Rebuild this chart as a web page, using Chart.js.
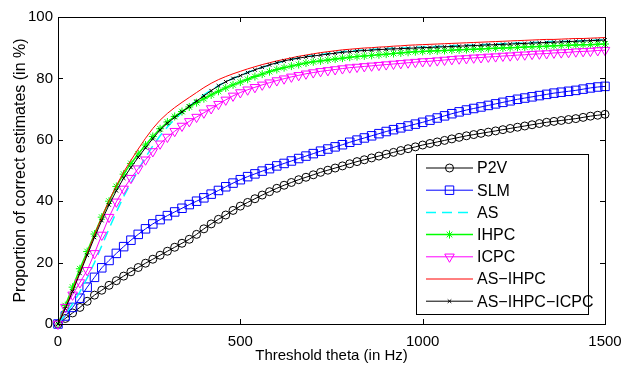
<!DOCTYPE html>
<html>
<head>
<meta charset="utf-8">
<script src="https://cdn.jsdelivr.net/npm/chart.js@4.4.1/dist/chart.umd.min.js"></script>
<style>
  html, body { margin: 0; padding: 0; background: #fff; }
  #wrap { width: 632px; height: 365px; position: relative; }
</style>
</head>
<body>
<div id="wrap"><canvas id="accChart"></canvas></div>
<script>
// threshold theta (Hz), one sample every 20 Hz
const theta = [];
for (let t = 0; t <= 1500; t += 20) theta.push(t);

const xTicks = [0, 500, 1000, 1500];
const yTicks = [0, 20, 40, 60, 80, 100];

// proportion of correct estimates (%)
const p2v = [0, 1.8, 3.6, 5.4, 7.4, 9.4, 11.0, 12.6, 14.1, 15.6,
  17.0, 18.4, 19.8, 21.1, 22.4, 23.7, 25.0, 26.3, 27.6, 29.2,
  31.0, 32.6, 34.1, 35.5, 37.0, 38.4, 39.6, 40.8, 42.0, 43.1,
  44.2, 45.2, 46.1, 47.0, 47.8, 48.6, 49.4, 50.1, 50.8, 51.5,
  52.2, 52.9, 53.5, 54.1, 54.7, 55.3, 55.9, 56.5, 57.1, 57.7,
  58.3, 58.8, 59.3, 59.8, 60.3, 60.8, 61.3, 61.7, 62.1, 62.5,
  62.9, 63.3, 63.7, 64.1, 64.5, 64.9, 65.3, 65.7, 66.0, 66.3,
  66.6, 66.9, 67.3, 67.7, 68.0, 68.3];

const slm = [0, 2.6, 5.4, 8.4, 12.0, 15.2, 18.3, 20.7, 23.0, 25.2,
  27.3, 29.2, 31.0, 32.6, 34.0, 35.3, 36.5, 37.7, 38.9, 40.0,
  41.1, 42.3, 43.5, 44.7, 45.9, 47.0, 48.0, 48.9, 49.8, 50.6,
  51.5, 52.3, 53.1, 53.9, 54.7, 55.5, 56.3, 57.0, 57.7, 58.4,
  59.2, 59.9, 60.6, 61.3, 62.0, 62.7, 63.3, 63.9, 64.5, 65.1,
  65.7, 66.4, 67.1, 67.8, 68.5, 69.1, 69.7, 70.2, 70.7, 71.2,
  71.7, 72.2, 72.7, 73.2, 73.6, 74.0, 74.4, 74.8, 75.2, 75.5,
  75.8, 76.1, 76.5, 76.9, 77.2, 77.4];

const as = [0, 3.0, 6.5, 10.5, 15.0, 20.0, 25.5, 31.0, 36.5, 41.5,
  46.0, 50.3, 54.3, 58.0, 61.3, 64.2, 66.7, 68.9, 70.9, 72.8,
  74.6, 76.2, 77.6, 78.9, 80.0, 81.0, 81.9, 82.8, 83.6, 84.3,
  85.0, 85.6, 86.2, 86.7, 87.1, 87.5, 87.8, 88.1, 88.4, 88.7,
  88.9, 89.1, 89.3, 89.4, 89.6, 89.7, 89.8, 89.9, 90.0, 90.1,
  90.2, 90.3, 90.4, 90.5, 90.6, 90.7, 90.8, 90.9, 91.0, 91.1,
  91.2, 91.3, 91.4, 91.5, 91.6, 91.7, 91.8, 91.9, 92.0, 92.0,
  92.1, 92.2, 92.3, 92.4, 92.5, 92.6];

const ihpc = [0, 6.0, 12.0, 18.0, 23.6, 29.3, 34.8, 40.0, 44.8, 48.8,
  52.3, 55.4, 58.3, 61.1, 63.6, 65.8, 67.6, 69.2, 70.7, 72.1,
  73.4, 74.6, 75.8, 76.9, 77.9, 78.8, 79.7, 80.6, 81.4, 82.2,
  82.9, 83.5, 84.0, 84.5, 85.0, 85.4, 85.7, 86.0, 86.3, 86.6,
  86.9, 87.1, 87.3, 87.5, 87.7, 87.9, 88.1, 88.3, 88.5, 88.7,
  88.8, 88.9, 89.0, 89.1, 89.2, 89.3, 89.4, 89.5, 89.6, 89.7,
  89.8, 89.9, 90.0, 90.1, 90.2, 90.3, 90.4, 90.5, 90.6, 90.7,
  90.8, 90.9, 91.0, 91.0, 91.1, 91.2];

const icpc = [0, 5.5, 9.5, 13.5, 17.5, 23.0, 29.0, 34.8, 39.8, 44.0,
  47.5, 50.6, 53.5, 56.2, 58.7, 60.9, 62.8, 64.5, 66.0, 67.4,
  68.8, 70.2, 71.6, 73.0, 74.3, 75.4, 76.3, 77.1, 77.9, 78.6,
  79.3, 79.9, 80.5, 81.0, 81.5, 81.9, 82.3, 82.6, 82.9, 83.2,
  83.5, 83.7, 83.9, 84.1, 84.3, 84.5, 84.7, 84.9, 85.1, 85.3,
  85.5, 85.6, 85.8, 86.0, 86.2, 86.4, 86.5, 86.7, 86.8, 87.0,
  87.1, 87.3, 87.4, 87.6, 87.7, 87.9, 88.0, 88.1, 88.3, 88.4,
  88.5, 88.7, 88.8, 88.9, 89.1, 89.2];

const asIhpc = [0, 5.2, 11.0, 17.0, 23.0, 29.0, 34.8, 40.2, 45.0, 49.5,
  53.3, 57.0, 60.5, 63.7, 66.4, 68.6, 70.5, 72.2, 73.8, 75.4,
  77.0, 78.4, 79.6, 80.6, 81.5, 82.3, 83.1, 83.8, 84.5, 85.1,
  85.7, 86.2, 86.7, 87.2, 87.6, 88.0, 88.4, 88.7, 89.0, 89.3,
  89.5, 89.7, 89.9, 90.0, 90.2, 90.3, 90.5, 90.6, 90.8, 90.9,
  91.0, 91.1, 91.2, 91.3, 91.4, 91.5, 91.6, 91.7, 91.8, 91.9,
  92.0, 92.1, 92.2, 92.3, 92.4, 92.5, 92.6, 92.7, 92.7, 92.8,
  92.9, 93.0, 93.0, 93.1, 93.2, 93.3];

const asIhpcIcpc = [0, 5.0, 10.6, 16.5, 22.4, 28.2, 33.7, 38.8, 43.4, 47.5,
  51.0, 54.3, 57.4, 60.4, 63.2, 65.4, 67.3, 69.1, 70.9, 72.6,
  74.3, 76.0, 77.6, 78.9, 80.0, 80.9, 81.9, 82.8, 83.6, 84.4,
  85.1, 85.7, 86.2, 86.6, 87.0, 87.3, 87.6, 87.9, 88.2, 88.5,
  88.7, 88.9, 89.1, 89.2, 89.4, 89.5, 89.6, 89.7, 89.8, 89.9,
  90.0, 90.1, 90.2, 90.3, 90.4, 90.5, 90.6, 90.7, 90.8, 90.9,
  91.0, 91.1, 91.2, 91.3, 91.4, 91.5, 91.6, 91.7, 91.8, 91.9,
  92.0, 92.1, 92.2, 92.3, 92.4, 92.5];

const FONT = "'Liberation Sans', Arial, Helvetica, sans-serif";

function series(label, values, color, marker) {
  return Object.assign({
    label: label,
    data: values.map((v, i) => ({ x: theta[i], y: v })),
    borderColor: color,
    borderWidth: 1,
    pointBorderColor: color,
    pointBackgroundColor: 'rgba(0,0,0,0)',
    pointBorderWidth: 1,
    pointRadius: 0,
    pointStyle: false,
    tension: 0,
    clip: false
  }, marker);
}

// matlab's tex rendering turns the hyphens into minus signs
const datasets = [
  series('P2V', p2v, '#000000', { pointStyle: 'circle', pointRadius: 4 }),
  series('SLM', slm, '#0000ff', { pointStyle: 'rect', pointRadius: 6 }),
  series('AS', as, '#00ffff', { borderDash: [10, 6], borderWidth: 1.5 }),
  series('IHPC', ihpc, '#00ff00', { pointStyle: 'star', pointRadius: 4, borderWidth: 1.5 }),
  series('ICPC', icpc, '#ff00ff', { pointStyle: 'triangle', pointRadius: 5.5, pointRotation: 180 }),
  series('AS\u2212IHPC', asIhpc, '#ff0000', {}),
  series('AS\u2212IHPC\u2212ICPC', asIhpcIcpc, '#000000', { pointStyle: 'crossRot', pointRadius: 2.5 })
];
// later curves on top
datasets.forEach((d, i) => { d.order = datasets.length - i; });

// box round the axes with inward ticks
const axesBox = {
  id: 'axesBox',
  afterDatasetsDraw(chart) {
    const { ctx, chartArea: a, scales } = chart;
    const tl = 5;
    ctx.save();
    ctx.strokeStyle = '#000';
    ctx.lineWidth = 1;
    ctx.beginPath();
    xTicks.forEach(v => {
      const px = Math.round(scales.x.getPixelForValue(v)) + 0.5;
      ctx.moveTo(px, a.bottom); ctx.lineTo(px, a.bottom - tl);
      ctx.moveTo(px, a.top); ctx.lineTo(px, a.top + tl);
    });
    yTicks.forEach(v => {
      const py = Math.round(scales.y.getPixelForValue(v)) + 0.5;
      ctx.moveTo(a.left, py); ctx.lineTo(a.left + tl, py);
      ctx.moveTo(a.right, py); ctx.lineTo(a.right - tl, py);
    });
    ctx.stroke();
    ctx.strokeRect(Math.round(a.left) + 0.5, Math.round(a.top) + 0.5,
      Math.round(a.right - a.left), Math.round(a.bottom - a.top));
    ctx.restore();
  }
};

// legend box in the lower right, line sample with marker in the middle
const boxLegend = {
  id: 'boxLegend',
  afterDraw(chart) {
    const ctx = chart.ctx;
    const bx = 416, by = 154, bw = 172, bh = 160, step = 22.2;
    ctx.save();
    ctx.fillStyle = '#fff';
    ctx.fillRect(bx, by, bw, bh);
    ctx.strokeStyle = '#000';
    ctx.lineWidth = 1;
    ctx.strokeRect(bx + 0.5, by + 0.5, bw, bh);
    ctx.font = '16px ' + FONT;
    ctx.textBaseline = 'middle';
    datasets.forEach((d, i) => {
      const y = by + 14 + i * step;
      ctx.strokeStyle = d.borderColor;
      ctx.lineWidth = d.borderWidth;
      ctx.setLineDash(d.borderDash || []);
      ctx.beginPath();
      ctx.moveTo(426, y); ctx.lineTo(473, y);
      ctx.stroke();
      ctx.setLineDash([]);
      if (d.pointStyle) {
        ctx.lineWidth = 1;
        ctx.fillStyle = 'rgba(0,0,0,0)';
        Chart.helpers.drawPoint(ctx, {
          pointStyle: d.pointStyle,
          radius: d.pointRadius,
          rotation: d.pointRotation || 0,
          borderWidth: 1
        }, 449.5, y);
      }
      ctx.fillStyle = '#000';
      ctx.fillText(d.label, 477, y + 1);
    });
    ctx.restore();
  }
};

function initChart() {
  const ctx = document.getElementById('accChart').getContext('2d');
  new Chart(ctx, {
    type: 'line',
    data: { datasets: datasets },
    options: {
      responsive: true,
      maintainAspectRatio: false,
      animation: false,
      layout: { padding: { top: 17, right: 27, left: 0, bottom: 0 } },
      plugins: { legend: { display: false }, tooltip: { enabled: false } },
      scales: {
        x: {
          type: 'linear',
          min: 0, max: 1500,
          afterBuildTicks: s => { s.ticks = xTicks.map(v => ({ value: v })); },
          afterFit: s => { s.height = 41; },
          grid: { display: false, drawTicks: false },
          border: { display: false },
          ticks: { color: '#000', font: { family: FONT, size: 15 }, padding: 9, maxRotation: 0,
                   callback: v => String(v) },
          title: { display: true, text: 'Threshold theta (in Hz)', color: '#000',
                   font: { family: FONT, size: 15 }, padding: { top: 0, bottom: 0 } }
        },
        y: {
          min: 0, max: 100,
          afterBuildTicks: s => { s.ticks = yTicks.map(v => ({ value: v })); },
          afterFit: s => { s.width = 58; },
          grid: { display: false, drawTicks: false },
          border: { display: false },
          ticks: { color: '#000', font: { family: FONT, size: 15 }, padding: 5,
                   callback: v => String(v) },
          title: { display: true, text: 'Proportion of correct estimates (in %)', color: '#000',
                   font: { family: FONT, size: 16 }, padding: { top: 11, bottom: 0 } }
        }
      }
    },
    plugins: [axesBox, boxLegend]
  });
}

document.addEventListener('DOMContentLoaded', initChart);
</script>
</body>
</html>
